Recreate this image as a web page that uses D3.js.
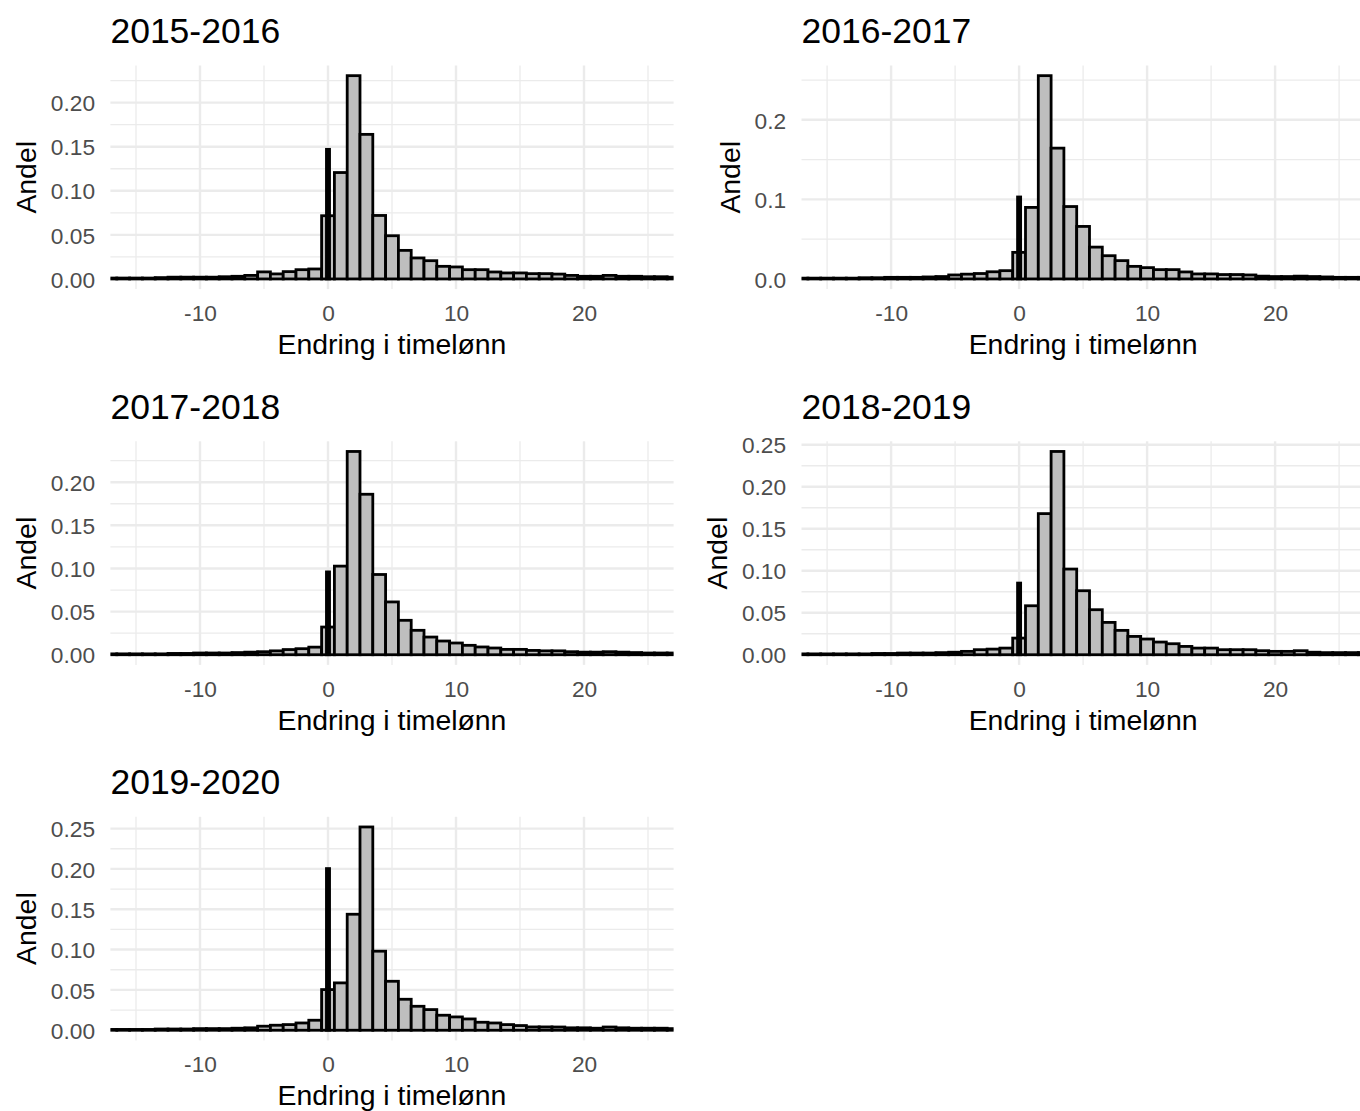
<!DOCTYPE html>
<html>
<head>
<meta charset="utf-8">
<script src="https://cdn.jsdelivr.net/npm/d3@7"></script>
<style>
  body { margin: 0; background: #fff; }
  svg { display: block; font-family: 'Liberation Sans', Arial, sans-serif; }
</style>
</head>
<body>
<svg width="1360" height="1111"></svg>
<script>
// bin centres (width 1) for endring i timelønn
const binCenters = [-17, -16, -15, -14, -13, -12, -11, -10, -9, -8, -7, -6, -5, -4, -3, -2, -1,
  0, 1, 2, 3, 4, 5, 6, 7, 8, 9, 10, 11, 12, 13, 14, 15, 16, 17, 18, 19, 20, 21, 22, 23, 24, 25, 26, 27]

const share1516 = [0.001, 0.001, 0.001, 0.001, 0.0015, 0.002, 0.002, 0.002, 0.002, 0.0025, 0.003, 0.004, 0.008, 0.0057, 0.0083, 0.0105, 0.0113,
  0.0717, 0.1207, 0.2306, 0.164, 0.072, 0.049, 0.0324, 0.0238, 0.0207, 0.0143, 0.0136, 0.0105, 0.0105, 0.0079, 0.0068, 0.0068, 0.006, 0.006, 0.0055, 0.004, 0.003, 0.003, 0.004, 0.003, 0.003, 0.0025, 0.0025, 0.002]
const share1617 = [0.001, 0.001, 0.001, 0.001, 0.001, 0.0015, 0.0015, 0.002, 0.002, 0.002, 0.0025, 0.003, 0.005, 0.006, 0.0068, 0.009, 0.0104,
  0.0334, 0.0899, 0.2555, 0.1644, 0.091, 0.066, 0.040, 0.0292, 0.023, 0.0158, 0.0142, 0.0117, 0.0117, 0.0088, 0.0063, 0.0063, 0.0055, 0.0055, 0.005, 0.0035, 0.003, 0.003, 0.0035, 0.003, 0.0025, 0.002, 0.002, 0.002]
const share1718 = [0.001, 0.001, 0.001, 0.001, 0.001, 0.0015, 0.0015, 0.002, 0.002, 0.002, 0.0025, 0.003, 0.0035, 0.0045, 0.006, 0.007, 0.0088,
  0.0321, 0.1027, 0.2356, 0.186, 0.093, 0.0612, 0.0399, 0.0283, 0.0205, 0.0159, 0.0136, 0.0109, 0.009, 0.0078, 0.0062, 0.0062, 0.005, 0.0045, 0.0045, 0.0035, 0.003, 0.003, 0.0035, 0.003, 0.0025, 0.002, 0.002, 0.002]
const share1819 = [0.001, 0.001, 0.001, 0.001, 0.001, 0.001, 0.0015, 0.0015, 0.002, 0.002, 0.002, 0.0025, 0.003, 0.004, 0.006, 0.0067, 0.0079,
  0.0198, 0.0583, 0.168, 0.242, 0.102, 0.0762, 0.0536, 0.0385, 0.029, 0.0218, 0.0187, 0.0151, 0.0131, 0.0099, 0.0079, 0.0079, 0.006, 0.006, 0.006, 0.0048, 0.004, 0.004, 0.0048, 0.003, 0.0025, 0.0025, 0.0025, 0.0025]
const share1920 = [0.001, 0.001, 0.001, 0.001, 0.0015, 0.0015, 0.0015, 0.002, 0.002, 0.002, 0.0025, 0.003, 0.005, 0.0062, 0.007, 0.009, 0.0124,
  0.0504, 0.0587, 0.1438, 0.252, 0.098, 0.0607, 0.0384, 0.0297, 0.0256, 0.0186, 0.0165, 0.014, 0.0099, 0.009, 0.007, 0.0058, 0.0041, 0.0041, 0.004, 0.003, 0.003, 0.0025, 0.004, 0.003, 0.0025, 0.0025, 0.0025, 0.002]

// share with exactly zero change (black spike)
const zeroShare = [0.147, 0.103, 0.096, 0.0853, 0.2004]

const titles = ['2015-2016', '2016-2017', '2017-2018', '2018-2019', '2019-2020']

const xTicks = [-10, 0, 10, 20]
const yTicks1516 = [0, 0.05, 0.1, 0.15, 0.2]
const yTicks1617 = [0, 0.1, 0.2]
const yTicks1718 = [0, 0.05, 0.1, 0.15, 0.2]
const yTicks1819 = [0, 0.05, 0.1, 0.15, 0.2, 0.25]
const yTicks1920 = [0, 0.05, 0.1, 0.15, 0.2, 0.25]

const panels = [
  {title: titles[0], values: share1516, zero: zeroShare[0], yTicks: yTicks1516, fmt: '.2f', col: 0, row: 0},
  {title: titles[1], values: share1617, zero: zeroShare[1], yTicks: yTicks1617, fmt: '.1f', col: 1, row: 0},
  {title: titles[2], values: share1718, zero: zeroShare[2], yTicks: yTicks1718, fmt: '.2f', col: 0, row: 1},
  {title: titles[3], values: share1819, zero: zeroShare[3], yTicks: yTicks1819, fmt: '.2f', col: 1, row: 1},
  {title: titles[4], values: share1920, zero: zeroShare[4], yTicks: yTicks1920, fmt: '.2f', col: 0, row: 2}
]

const colLeft = [110.4, 801.5]
const plotW = 563.2
const rowTop = [65.5, 441.3, 816.8]
const plotH = 223.6
const xDomain = [-17, 27]

const gridCol = '#EBEBEB'
const svg = d3.select('svg')
const defs = svg.append('defs')

panels.forEach((p, i) => {
  const left = colLeft[p.col]
  const top = rowTop[p.row]
  const bottom = top + plotH

  const x = d3.scaleLinear().domain(xDomain).range([left, left + plotW])
  const maxV = d3.max(p.values.concat([p.zero]))
  const y = d3.scaleLinear().domain([-0.05 * maxV, 1.05 * maxV]).range([bottom, top])

  const g = svg.append('g').attr('class', 'panel')

  // minor breaks: midpoints, extended one step each side
  const yStep = p.yTicks[1] - p.yTicks[0]
  const yMinor = [p.yTicks[0] - yStep / 2].concat(p.yTicks.map(t => t + yStep / 2))
    .filter(t => t >= y.domain()[0] && t <= y.domain()[1])
  const xMinor = [xTicks[0] - 5].concat(xTicks.map(t => t + 5))
    .filter(t => t >= xDomain[0] && t <= xDomain[1])

  const grid = g.append('g').attr('class', 'grid').attr('stroke', gridCol)
  grid.selectAll('line.ymin').data(yMinor).join('line')
    .attr('class', 'ymin')
    .attr('x1', left).attr('x2', left + plotW)
    .attr('y1', d => y(d)).attr('y2', d => y(d))
    .attr('stroke-width', 1.3)
  grid.selectAll('line.xmin').data(xMinor).join('line')
    .attr('class', 'xmin')
    .attr('y1', top).attr('y2', bottom)
    .attr('x1', d => x(d)).attr('x2', d => x(d))
    .attr('stroke-width', 1.3)
  grid.selectAll('line.ymaj').data(p.yTicks).join('line')
    .attr('class', 'ymaj')
    .attr('x1', left).attr('x2', left + plotW)
    .attr('y1', d => y(d)).attr('y2', d => y(d))
    .attr('stroke-width', 2.4)
  grid.selectAll('line.xmaj').data(xTicks).join('line')
    .attr('class', 'xmaj')
    .attr('y1', top).attr('y2', bottom)
    .attr('x1', d => x(d)).attr('x2', d => x(d))
    .attr('stroke-width', 2.4)

  defs.append('clipPath').attr('id', 'clip' + i)
    .append('rect')
    .attr('x', left).attr('y', top)
    .attr('width', plotW).attr('height', plotH)

  const bars = g.append('g')
    .attr('clip-path', `url(#clip${i})`)
    .attr('stroke', '#000')
    .attr('stroke-width', 2.8)

  bars.selectAll('rect.bin')
    .data(binCenters.map((c, k) => ({c, v: p.values[k]})))
    .join('rect')
    .attr('class', 'bin')
    .attr('fill', '#BEBEBE')
    .attr('x', d => x(d.c - 0.5))
    .attr('width', d => x(d.c + 0.5) - x(d.c - 0.5))
    .attr('y', d => y(d.v))
    .attr('height', d => y(0) - y(d.v))

  bars.append('rect')
    .attr('class', 'zero')
    .attr('fill', '#000')
    .attr('x', x(-0.12))
    .attr('width', x(0.12) - x(-0.12))
    .attr('y', y(p.zero))
    .attr('height', y(0) - y(p.zero))

  // x axis
  const xAxis = g.append('g')
    .attr('transform', `translate(0, ${bottom})`)
    .call(d3.axisBottom(x).tickValues(xTicks).tickSize(0).tickPadding(15.5).tickFormat(d => String(d)))
  xAxis.select('.domain').remove()
  xAxis.selectAll('text').attr('fill', '#4D4D4D').attr('font-size', 22.7)
    .attr('font-family', 'Liberation Sans, Arial, sans-serif')

  // y axis
  const yAxis = g.append('g')
    .attr('transform', `translate(${left}, 0)`)
    .call(d3.axisLeft(y).tickValues(p.yTicks).tickSize(0).tickPadding(15.4).tickFormat(d3.format(p.fmt)))
  yAxis.select('.domain').remove()
  yAxis.selectAll('text').attr('fill', '#4D4D4D').attr('font-size', 22.7)
    .attr('font-family', 'Liberation Sans, Arial, sans-serif')
    .attr('dy', '0.36em')

  const labW = d3.max(yAxis.selectAll('text').nodes(), n => n.getComputedTextLength())

  g.append('text')
    .attr('font-size', 28.4)
    .attr('text-anchor', 'middle')
    .attr('transform', `translate(${left - 15.4 - labW - 14.5}, ${(top + bottom) / 2}) rotate(-90)`)
    .text('Andel')

  g.append('text')
    .attr('font-size', 28.4)
    .attr('text-anchor', 'middle')
    .attr('x', left + plotW / 2)
    .attr('y', bottom + 65)
    .text('Endring i timelønn')

  g.append('text')
    .attr('font-size', 35.5)
    .attr('x', left)
    .attr('y', top - 22.8)
    .text(p.title)
})
</script>
</body>
</html>
